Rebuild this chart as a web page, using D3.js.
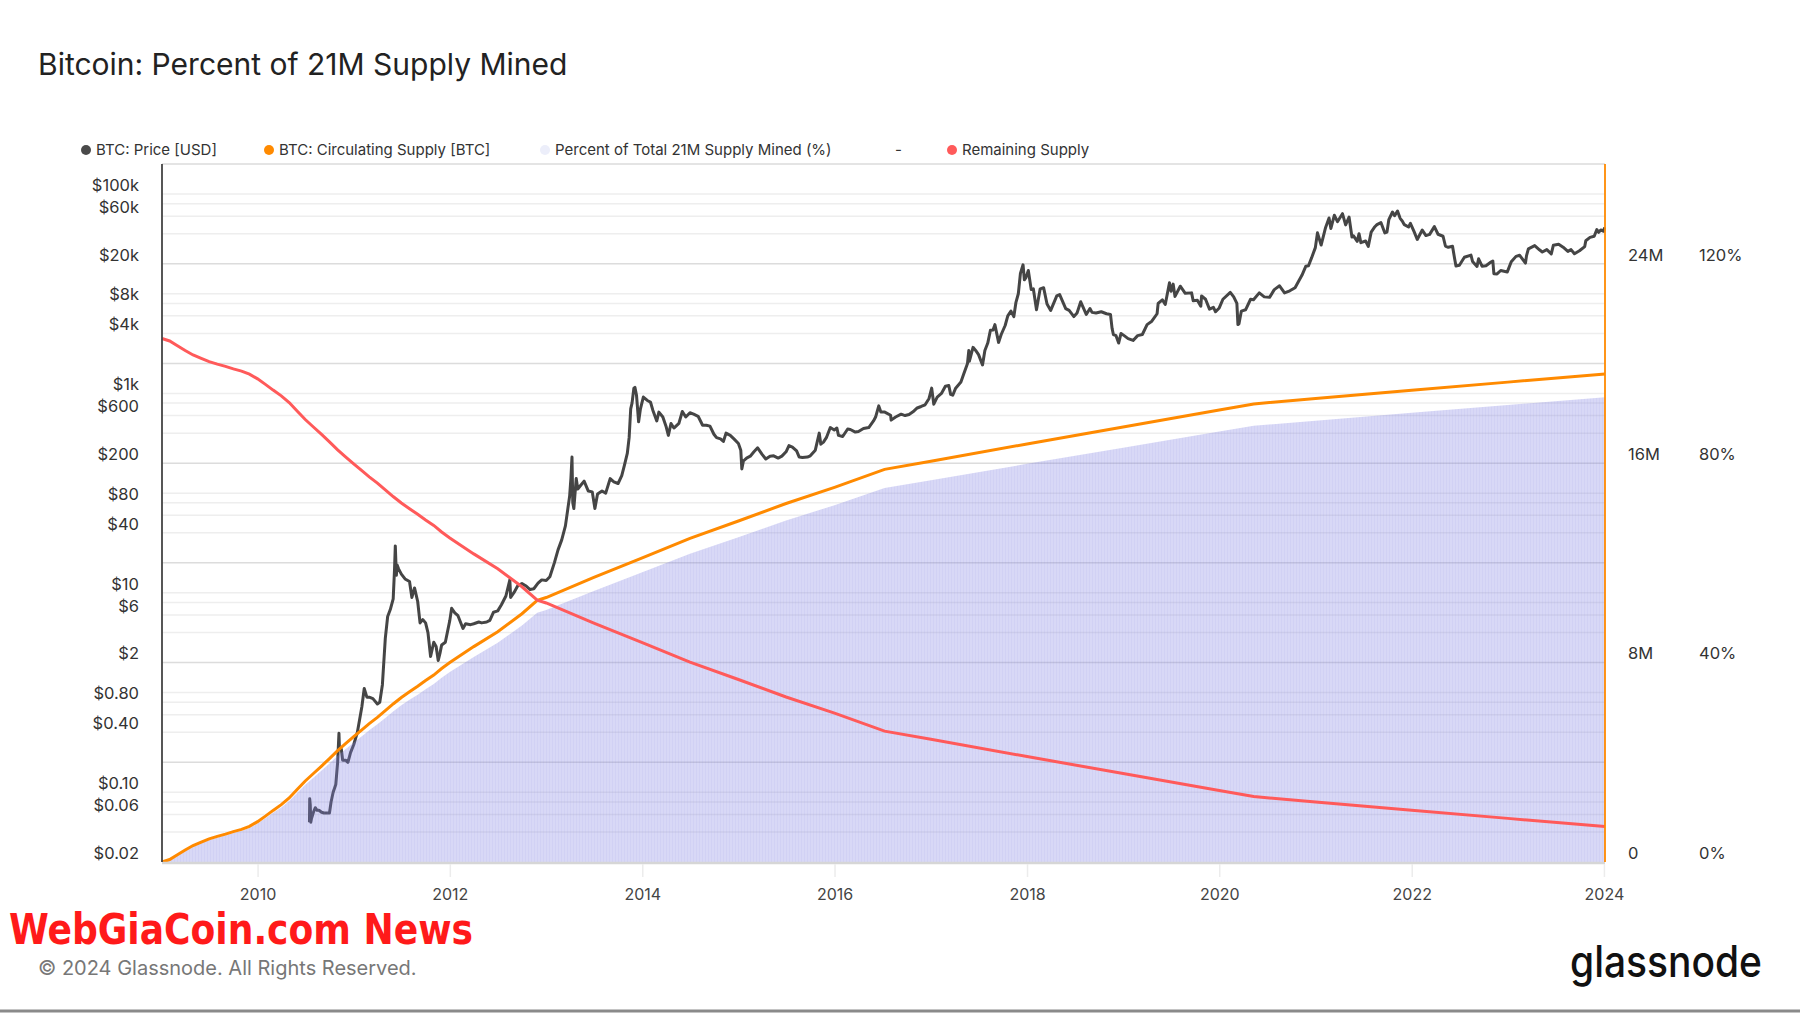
<!DOCTYPE html>
<html><head><meta charset="utf-8">
<script src="https://cdnjs.cloudflare.com/ajax/libs/d3/7.8.5/d3.min.js"></script>
<style>body{margin:0;background:#fff;} svg{display:block;font-family:Inter,"Noto Sans",sans-serif;}</style>
</head><body><svg id="c" width="1800" height="1013"></svg>
<script>
// ---------------- DATA ----------------
const supplyDates = ["2009-01-03","2009-02-01","2009-03-01","2009-04-01","2009-05-01","2009-06-01","2009-07-01","2009-08-01","2009-09-01","2009-10-01","2009-11-01","2009-12-01",
"2010-01-01","2010-02-01","2010-03-01","2010-04-01","2010-05-01","2010-06-01","2010-07-01","2010-08-01","2010-09-01","2010-10-01","2010-11-01","2010-12-01",
"2011-01-01","2011-02-01","2011-03-01","2011-04-01","2011-05-01","2011-06-01","2011-07-01","2011-08-01","2011-09-01","2011-10-01","2011-11-01","2011-12-01",
"2012-01-01","2012-04-01","2012-07-01","2012-10-01","2012-11-28","2013-01-01","2013-07-01","2014-01-01","2014-07-01","2015-01-01","2015-07-01","2016-01-01","2016-07-09",
"2017-01-01","2018-01-01","2019-01-01","2020-01-01","2020-05-11","2021-01-01","2022-01-01","2023-01-01","2024-01-05"];
// BTC circulating supply, millions
const circulatingSupplyM = [0,0.10,0.28,0.48,0.66,0.80,0.93,1.03,1.12,1.22,1.31,1.43,
1.62,1.85,2.07,2.30,2.57,2.92,3.25,3.55,3.85,4.15,4.47,4.75,
5.03,5.30,5.55,5.80,6.07,6.35,6.60,6.83,7.05,7.28,7.50,7.76,
8.00,8.64,9.24,9.96,10.50,10.61,11.42,12.20,12.98,13.68,14.38,15.03,15.75,
16.08,16.77,17.45,18.13,18.375,18.59,18.92,19.25,19.58];
// Percent of total 21M supply mined
const percentMined = [0,0.48,1.33,2.29,3.14,3.81,4.43,4.90,5.33,5.81,6.24,6.81,
7.71,8.81,9.86,10.95,12.24,13.90,15.48,16.90,18.33,19.76,21.29,22.62,
23.95,25.24,26.43,27.62,28.90,30.24,31.43,32.52,33.57,34.67,35.71,36.95,
38.10,41.14,44.00,47.43,50.00,50.52,54.38,58.10,61.81,65.14,68.48,71.57,75.00,
76.57,79.86,83.10,86.33,87.50,88.52,90.10,91.67,93.24];
// Remaining supply, millions
const remainingSupplyM = [21,20.90,20.72,20.52,20.34,20.20,20.07,19.97,19.88,19.78,19.69,19.57,
19.38,19.15,18.93,18.70,18.43,18.08,17.75,17.45,17.15,16.85,16.53,16.25,
15.97,15.70,15.45,15.20,14.93,14.65,14.40,14.17,13.95,13.72,13.50,13.24,
13.00,12.36,11.76,11.04,10.50,10.39,9.58,8.80,8.02,7.32,6.62,5.97,5.25,
4.92,4.23,3.55,2.87,2.625,2.41,2.08,1.75,1.42];

// BTC price [USD]
const btcPrice = [
["2010-07-17",0.05],["2010-07-18",0.086],["2010-07-19",0.08],["2010-07-20",0.075],["2010-07-22",0.05],["2010-07-25",0.055],["2010-08-01",0.063],["2010-08-08",0.07],["2010-08-15",0.066],["2010-08-22",0.066],["2010-09-01",0.063],["2010-09-10",0.062],["2010-09-20",0.062],["2010-10-01",0.062],["2010-10-07",0.08],["2010-10-15",0.10],["2010-10-25",0.12],["2010-11-01",0.20],["2010-11-06",0.39],["2010-11-08",0.27],["2010-11-15",0.27],["2010-11-20",0.21],["2010-12-01",0.21],["2010-12-10",0.20],["2010-12-20",0.25],
["2011-01-01",0.30],["2011-01-15",0.40],["2011-02-01",0.72],["2011-02-10",1.10],["2011-02-20",0.90],["2011-03-01",0.90],["2011-03-15",0.87],["2011-04-01",0.77],["2011-04-10",0.80],["2011-04-20",1.20],["2011-05-01",3.5],["2011-05-10",5.8],["2011-05-20",6.8],["2011-05-31",8.7],["2011-06-05",17],["2011-06-08",29.6],["2011-06-12",15],["2011-06-15",19],["2011-06-20",17.5],["2011-07-01",15.4],["2011-07-15",13.8],["2011-08-01",13.0],["2011-08-10",9.0],["2011-08-20",11.2],["2011-09-01",8.2],["2011-09-10",5.0],["2011-09-20",5.4],["2011-10-01",5.0],["2011-10-10",4.0],["2011-10-20",2.3],["2011-11-01",3.2],["2011-11-10",2.9],["2011-11-18",2.1],["2011-11-25",2.5],["2011-12-01",3.0],["2011-12-15",3.2],
["2012-01-01",5.3],["2012-01-08",7.0],["2012-01-20",6.3],["2012-02-01",5.9],["2012-02-20",4.4],["2012-03-01",4.9],["2012-03-20",4.8],["2012-04-01",4.9],["2012-04-20",5.1],["2012-05-01",5.0],["2012-05-20",5.1],["2012-06-01",5.3],["2012-06-15",6.4],["2012-07-01",6.6],["2012-07-15",7.6],["2012-08-01",9.3],["2012-08-16",13.5],["2012-08-19",9.0],["2012-09-01",10.1],["2012-09-15",11.8],["2012-10-01",12.4],["2012-10-15",11.8],["2012-11-01",10.8],["2012-11-15",11.0],["2012-12-01",12.5],["2012-12-15",13.5],
["2013-01-01",13.3],["2013-01-15",14.5],["2013-02-01",20],["2013-02-15",27],["2013-03-01",34],["2013-03-15",47],["2013-03-31",93],["2013-04-05",142],["2013-04-09",230],["2013-04-12",80],["2013-04-16",70],["2013-04-25",140],["2013-05-01",110],["2013-05-10",118],["2013-05-25",132],["2013-06-10",105],["2013-06-25",103],["2013-07-05",70],["2013-07-15",98],["2013-08-01",105],["2013-08-15",100],["2013-09-01",140],["2013-09-15",130],["2013-10-01",125],["2013-10-15",150],["2013-10-25",190],["2013-11-05",250],["2013-11-12",360],["2013-11-18",700],["2013-11-23",800],["2013-11-30",1130],["2013-12-04",1150],["2013-12-10",960],["2013-12-18",520],["2013-12-25",700],
["2014-01-05",920],["2014-01-20",850],["2014-02-01",820],["2014-02-10",680],["2014-02-25",530],["2014-03-05",650],["2014-03-20",580],["2014-04-01",470],["2014-04-10",380],["2014-04-20",500],["2014-05-01",450],["2014-05-20",500],["2014-06-02",660],["2014-06-15",580],["2014-07-01",640],["2014-07-15",620],["2014-08-01",590],["2014-08-18",480],["2014-09-01",480],["2014-09-15",470],["2014-09-30",390],["2014-10-10",360],["2014-10-25",350],["2014-11-05",330],["2014-11-15",400],["2014-12-01",380],["2014-12-15",350],
["2015-01-01",315],["2015-01-10",270],["2015-01-14",175],["2015-01-20",210],["2015-02-01",225],["2015-02-15",235],["2015-03-01",260],["2015-03-15",285],["2015-04-01",245],["2015-04-15",220],["2015-05-01",235],["2015-05-15",237],["2015-06-01",225],["2015-06-15",235],["2015-07-01",260],["2015-07-12",300],["2015-07-25",290],["2015-08-10",265],["2015-08-20",230],["2015-09-01",228],["2015-09-20",230],["2015-10-01",237],["2015-10-20",270],["2015-11-04",400],["2015-11-10",310],["2015-11-20",325],["2015-12-01",360],["2015-12-16",455],["2015-12-31",430],
["2016-01-10",450],["2016-01-16",380],["2016-02-01",370],["2016-02-20",440],["2016-03-01",435],["2016-03-20",410],["2016-04-01",415],["2016-04-20",445],["2016-05-10",455],["2016-05-28",530],["2016-06-05",580],["2016-06-17",750],["2016-06-25",650],["2016-07-10",650],["2016-08-01",605],["2016-08-03",540],["2016-08-20",580],["2016-09-10",620],["2016-09-25",600],["2016-10-10",615],["2016-10-25",655],["2016-11-10",715],["2016-11-25",740],["2016-12-10",770],["2016-12-25",890],
["2017-01-04",1130],["2017-01-12",780],["2017-01-25",920],["2017-02-10",1000],["2017-02-25",1180],["2017-03-10",1200],["2017-03-17",980],["2017-03-25",960],["2017-04-05",1130],["2017-04-25",1300],["2017-05-05",1550],["2017-05-20",2000],["2017-05-25",2700],["2017-05-27",2100],["2017-06-10",2900],["2017-06-20",2700],["2017-07-01",2450],["2017-07-16",1930],["2017-07-25",2700],["2017-08-05",3200],["2017-08-15",4300],["2017-08-25",4330],["2017-09-01",4900],["2017-09-15",3250],["2017-09-25",3900],["2017-10-10",4800],["2017-10-20",6000],["2017-11-01",6700],["2017-11-12",5900],["2017-11-20",8200],["2017-11-29",10000],["2017-12-07",16000],["2017-12-17",19500],["2017-12-22",13800],["2017-12-28",14500],
["2018-01-06",17100],["2018-01-17",11000],["2018-01-25",11200],["2018-02-06",6900],["2018-02-20",11200],["2018-03-05",11500],["2018-03-18",7900],["2018-04-01",6800],["2018-04-24",9500],["2018-05-05",9800],["2018-05-28",7100],["2018-06-10",6800],["2018-06-28",5900],["2018-07-10",6400],["2018-07-24",8300],["2018-08-14",6200],["2018-08-28",7100],["2018-09-05",6500],["2018-09-20",6400],["2018-10-10",6600],["2018-10-30",6300],["2018-11-14",6200],["2018-11-20",4500],["2018-11-25",3900],["2018-12-05",3800],["2018-12-15",3200],["2018-12-24",4000],
["2019-01-05",3800],["2019-01-20",3550],["2019-02-08",3400],["2019-02-25",3800],["2019-03-15",3900],["2019-04-02",4900],["2019-04-20",5300],["2019-05-10",6300],["2019-05-14",8000],["2019-05-30",8700],["2019-06-10",7800],["2019-06-26",12900],["2019-07-02",10600],["2019-07-10",12500],["2019-07-17",9400],["2019-08-06",11900],["2019-08-25",10100],["2019-09-18",10200],["2019-09-24",8500],["2019-10-10",8600],["2019-10-23",7500],["2019-10-26",9500],["2019-11-10",8800],["2019-11-25",7000],["2019-12-10",7300],["2019-12-18",6600],
["2020-01-01",7200],["2020-01-15",8800],["2020-02-12",10300],["2020-02-25",9300],["2020-03-08",8000],["2020-03-12",4900],["2020-03-16",5000],["2020-03-25",6700],["2020-04-10",6900],["2020-04-29",8800],["2020-05-10",8700],["2020-06-01",10200],["2020-06-20",9300],["2020-07-10",9200],["2020-07-28",11000],["2020-08-17",12000],["2020-09-05",10200],["2020-09-25",10700],["2020-10-15",11500],["2020-10-30",13600],["2020-11-10",15300],["2020-11-25",18900],["2020-12-05",19100],["2020-12-17",23000],["2020-12-31",29000],
["2021-01-08",40800],["2021-01-22",30800],["2021-02-08",46200],["2021-02-21",57500],["2021-02-28",45200],["2021-03-13",61200],["2021-03-25",52800],["2021-04-13",63500],["2021-04-25",49000],["2021-05-08",58800],["2021-05-19",37000],["2021-05-25",38000],["2021-06-08",33500],["2021-06-15",40000],["2021-06-22",32500],["2021-07-10",33800],["2021-07-20",29800],["2021-07-31",41500],["2021-08-14",47000],["2021-08-22",49300],["2021-09-06",51700],["2021-09-21",40700],["2021-09-29",41500],["2021-10-06",55300],["2021-10-20",66000],["2021-10-28",60600],["2021-11-08",67500],["2021-11-18",57000],["2021-11-26",53700],["2021-12-04",49300],["2021-12-20",46700],["2021-12-27",50700],
["2022-01-10",41900],["2022-01-22",35000],["2022-02-10",43500],["2022-02-24",38300],["2022-03-10",39400],["2022-03-28",47100],["2022-04-11",39500],["2022-04-30",37700],["2022-05-09",30100],["2022-05-20",29200],["2022-06-05",29900],["2022-06-13",22400],["2022-06-18",19000],["2022-07-01",19300],["2022-07-20",23200],["2022-08-14",24400],["2022-08-20",21100],["2022-09-06",18800],["2022-09-12",22400],["2022-09-25",18900],["2022-10-10",19100],["2022-10-29",20800],["2022-11-05",21300],["2022-11-09",15900],["2022-11-21",15800],["2022-12-05",17100],["2022-12-30",16550],
["2023-01-14",20900],["2023-02-01",23700],["2023-02-15",24300],["2023-03-09",20300],["2023-03-13",24100],["2023-03-20",28200],["2023-04-13",30400],["2023-05-01",27600],["2023-05-12",26200],["2023-05-29",27700],["2023-06-15",25100],["2023-06-23",30700],["2023-07-13",31400],["2023-07-30",29300],["2023-08-17",26600],["2023-08-29",27700],["2023-09-11",25150],["2023-09-30",26970],["2023-10-20",29700],["2023-10-24",34000],["2023-11-09",36700],["2023-11-25",37700],["2023-12-05",44000],["2023-12-12",41300],["2023-12-20",43600],["2023-12-31",42300],["2024-01-02",45000],["2024-01-05",44200]
];

const xTickYears = [2010,2012,2014,2016,2018,2020,2022,2024];
const priceTickLabels = [100000,60000,20000,8000,4000,1000,600,200,80,40,10,6,2,0.8,0.4,0.1,0.06,0.02];
const priceGridTicks = [0.04,0.06,0.08,0.1,0.4,0.6,0.8,1,4,6,8,10,40,60,80,100,400,600,800,1000,4000,6000,8000,10000,40000,60000,80000,100000];
const supplyTicks = [0,8e6,16e6,24e6];
const supplyGridTicks = [4e6,8e6,12e6,16e6,20e6,24e6];
const percentTicks = [0,40,80,120];
const legendItems = ["BTC: Price [USD]","BTC: Circulating Supply [BTC]","Percent of Total 21M Supply Mined (%)","-","Remaining Supply"];

// ---------------- LAYOUT ----------------
const X0=162, X1=1605, Y0=164, Y1=862;
const C_PRICE="#454545", C_SUPPLY="#ff8a00", C_FILL="rgb(125,125,225)", C_REM="#ff5a5a";
const svg=d3.select("#c");
const parse=d3.utcParse("%Y-%m-%d");
const x=d3.scaleUtc().domain([parse("2009-01-03"),parse("2024-01-05")]).range([X0,X1]);
const yP=d3.scaleLog().domain([0.02,200000]).range([Y1,Y0]);
const yS=d3.scaleLinear().domain([0,28e6]).range([Y1,Y0]);
const yPct=d3.scaleLinear().domain([0,140]).range([Y1,Y0]);

// title
svg.append("text").attr("x",38).attr("y",75).attr("font-size",30).attr("fill","#222").attr("font-weight",400)
  .text("Bitcoin: Percent of 21M Supply Mined");

// legend
const legX=[86,269,545,895,952];
const legC=["#4a4a4a",C_SUPPLY,"#eceefa",null,C_REM];
legendItems.forEach((t,i)=>{
  if(legC[i]){
    svg.append("circle").attr("cx",legX[i]).attr("cy",150).attr("r",5).attr("fill",legC[i]);
    svg.append("text").attr("x",legX[i]+10).attr("y",150).attr("dy","0.35em").attr("font-size",15).attr("fill","#333").text(t);
  } else {
    svg.append("text").attr("x",legX[i]).attr("y",150).attr("dy","0.35em").attr("font-size",15).attr("fill","#333").text(t);
  }
});

// gridlines
const g=svg.append("g");
g.selectAll(".pg").data(priceGridTicks).join("line")
  .attr("x1",X0).attr("x2",X1).attr("y1",d=>yP(d)).attr("y2",d=>yP(d))
  .attr("stroke","#eeeeee").attr("stroke-width",1.5);
g.selectAll(".sg").data(supplyGridTicks).join("line")
  .attr("x1",X0).attr("x2",X1).attr("y1",d=>yS(d)).attr("y2",d=>yS(d))
  .attr("stroke","#dcdcdc").attr("stroke-width",1.5);
g.append("line").attr("x1",X0).attr("x2",X1).attr("y1",Y0).attr("y2",Y0).attr("stroke","#e4e4e4").attr("stroke-width",2);

// price line
const priceData=btcPrice.map(d=>({date:parse(d[0]),v:d[1]}));
svg.append("path").datum(priceData)
  .attr("d",d3.line().x(d=>x(d.date)).y(d=>yP(d.v)))
  .attr("fill","none").attr("stroke",C_PRICE).attr("stroke-width",3).attr("stroke-linejoin","round");

// percent fill
const sup=supplyDates.map((d,i)=>({date:parse(d),s:circulatingSupplyM[i]*1e6,p:percentMined[i],r:remainingSupplyM[i]*1e6}));
const defs=svg.append("defs");
const pat=defs.append("pattern").attr("id","stripes").attr("width",3).attr("height",10).attr("patternUnits","userSpaceOnUse");
pat.append("rect").attr("width",3).attr("height",10).attr("fill",C_FILL).attr("fill-opacity",0.3);
pat.append("rect").attr("width",1).attr("height",10).attr("fill",C_FILL).attr("fill-opacity",0.07);
svg.append("path").datum(sup)
  .attr("d",d3.area().x(d=>x(d.date)).y0(Y1).y1(d=>yPct(d.p)))
  .attr("fill","url(#stripes)");

// supply line
svg.append("path").datum(sup)
  .attr("d",d3.line().x(d=>x(d.date)).y(d=>yS(d.s)))
  .attr("fill","none").attr("stroke",C_SUPPLY).attr("stroke-width",3);
// remaining supply
svg.append("path").datum(sup)
  .attr("d",d3.line().x(d=>x(d.date)).y(d=>yS(d.r)))
  .attr("fill","none").attr("stroke",C_REM).attr("stroke-width",3);

// axes frame
svg.append("line").attr("x1",X0).attr("x2",X1).attr("y1",Y1+1).attr("y2",Y1+1).attr("stroke","#d6d6d6").attr("stroke-width",2.5);
svg.append("line").attr("x1",X0).attr("x2",X0).attr("y1",Y0).attr("y2",Y1).attr("stroke","#444").attr("stroke-width",1.8);
svg.append("line").attr("x1",X1).attr("x2",X1).attr("y1",Y0).attr("y2",Y1).attr("stroke",C_SUPPLY).attr("stroke-width",1.8);

// x axis
const xa=svg.append("g").attr("transform",`translate(0,${Y1+2})`)
  .call(d3.axisBottom(x).tickValues(xTickYears.map(yr=>new Date(Date.UTC(yr,0,1)))).tickFormat(d3.utcFormat("%Y")).tickSize(13).tickPadding(12));
xa.select(".domain").remove();
xa.selectAll(".tick line").attr("stroke","#ececec").attr("stroke-width",1.5);
xa.selectAll(".tick text").attr("font-size",16).attr("fill","#444").attr("font-family","Inter");

// left axis
const fmtP=v=> v>=1000? "$"+(v/1000)+"k" : v>=1? "$"+v : "$"+v.toFixed(2);
const la=svg.append("g").attr("transform",`translate(${X0},0)`)
  .call(d3.axisLeft(yP).tickValues(priceTickLabels).tickFormat(fmtP).tickSize(0).tickPadding(23));
la.select(".domain").remove();
la.selectAll(".tick text").attr("font-size",16.5).attr("fill","#333").attr("font-family","Inter").attr("dy","-0.22em");

// right axes
const ra=svg.append("g").attr("transform",`translate(${X1},0)`)
  .call(d3.axisRight(yS).tickValues(supplyTicks).tickFormat(v=>v===0?"0":(v/1e6)+"M").tickSize(0).tickPadding(23));
ra.select(".domain").remove();
ra.selectAll(".tick text").attr("font-size",16.5).attr("fill","#333").attr("font-family","Inter").attr("dy","-0.22em");
const rb=svg.append("g").attr("transform",`translate(${X1},0)`)
  .call(d3.axisRight(yPct).tickValues(percentTicks).tickFormat(v=>v+"%").tickSize(0).tickPadding(94));
rb.select(".domain").remove();
rb.selectAll(".tick text").attr("font-size",16.5).attr("fill","#333").attr("font-family","Inter").attr("dy","-0.22em");

// footer
svg.append("text").attr("x",9).attr("y",944).attr("font-size",42).attr("font-weight",700)
  .attr("font-family","'Liberation Sans Narrow','DejaVu Sans Condensed',sans-serif").attr("fill","#ff1a1a")
  .attr("textLength",464).attr("lengthAdjust","spacingAndGlyphs").text("WebGiaCoin.com News");
svg.append("text").attr("x",38).attr("y",975).attr("font-size",20).attr("fill","#777").text("© 2024 Glassnode. All Rights Reserved.");
svg.append("text").attr("x",1570).attr("y",977).attr("font-size",44).attr("font-weight",500).attr("fill","#111")
  .attr("textLength",192).attr("lengthAdjust","spacingAndGlyphs").text("glassnode");
svg.append("line").attr("x1",0).attr("x2",1800).attr("y1",1011).attr("y2",1011).attr("stroke","#8a8a8a").attr("stroke-width",3);
</script></body></html>
